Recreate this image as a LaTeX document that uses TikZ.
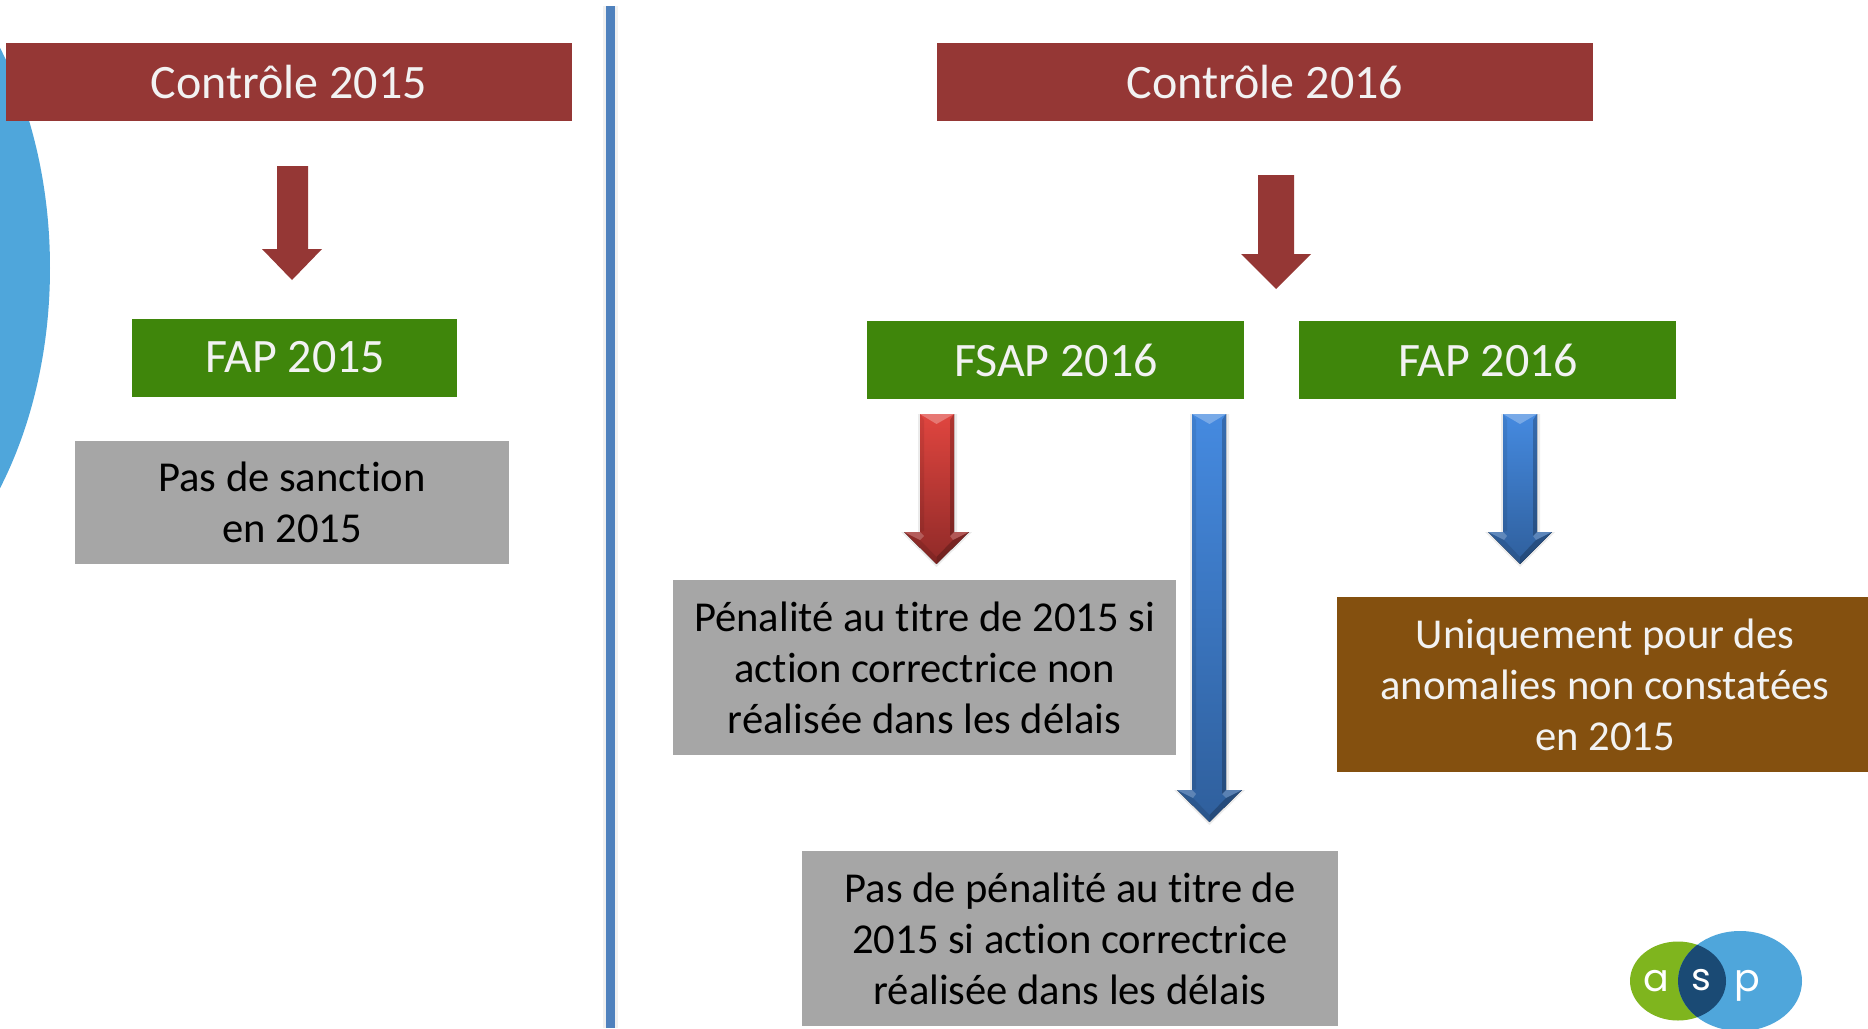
\documentclass[tikz,border=0pt]{standalone}
\usepackage{fontspec}
\setmainfont[RawFeature={-liga;-clig}]{Carlito}
\newfontfamily\logofont{Poppins}
\usetikzlibrary{calc}
\definecolor{dred}{HTML}{953735}
\definecolor{dgreen}{HTML}{3F860B}
\definecolor{mgrey}{HTML}{A6A6A6}
\definecolor{mbrown}{HTML}{84500F}
\definecolor{lineblue}{HTML}{4F81BD}
\definecolor{skyb}{HTML}{4FA6DB}
\definecolor{lgreen}{HTML}{7FB51E}
\definecolor{navy}{HTML}{1A4A74}
\newcommand{\hdrtext}[1]{\raisebox{-1.5pt}{#1}}
\tikzset{
  box/.style={rectangle,inner sep=0pt,outer sep=0pt,align=center,font=\fontsize{42.6}{51}\selectfont},
  bigbox/.style={box,font=\fontsize{48}{51}\selectfont},
  darktext/.style={box,fill=mgrey,text=black},
  redbox/.style={bigbox,fill=dred,text=white!95!black},
  greenbox/.style={bigbox,fill=dgreen,text=white!95!black},
  brownbox/.style={box,fill=mbrown,text=white!95!black},
  logotext/.style={inner sep=0pt,outer sep=0pt,text=white,font=\logofont\fontsize{38}{38}\selectfont}
}
% flat block arrow: name, x1,x2,ytop,yhead,hl,hr,ytip
\newcommand{\flatarrow}[8]{%
  \pgfmathsetmacro{\cx}{(#6+#7)/2}
  \coordinate (#1) at (\cx,#8);
  \fill[dred] (#2,#4) -- (#3,#4) -- (#3,#5) -- (#7,#5) -- (#1) -- (#6,#5) -- (#2,#5) -- cycle;
}
% bevelled block arrow: name, x1,x2,ytop,yhead,hl,hr,ytip
\newcommand{\bevelarrow}[8]{%
  \pgfmathsetmacro{\cx}{(#6+#7)/2}
  \coordinate (#1) at (\cx,#8);
  \fill[black,opacity=.08] (#2-2,#4) -- (#3+3,#4) -- (#3+3,#5) -- (#7+3,#5) -- (\cx,#8+3) -- (#6-3,#5) -- (#2-2,#5) -- cycle;
  \fill[top color=arrowlight,bottom color=arrowdark] (#2,#4) -- (#3,#4) -- (#3,#5) -- (#7,#5) -- (#1) -- (#6,#5) -- (#2,#5) -- cycle;
  % top bevel
  \fill[white,opacity=.28] (#2,#4) -- (#3,#4) -- (\cx,#4+10) -- cycle;
  % left and right bevel
  \fill[black,opacity=.08] (#2,#4) -- (#2+4,#4+6) -- (#2+4,#5-1) -- (#2,#5) -- cycle;
  \fill[black,opacity=.22] (#3,#4) -- (#3-4,#4+6) -- (#3-4,#5+4) -- (#3,#5) -- cycle;
  % head facets
  \fill[white,opacity=.22] (#6,#5) -- (#2,#5) -- (#2+4,#5+4) -- (#6+16,#5+8) -- cycle;
  \fill[white,opacity=.20] (#7,#5) -- (#3,#5) -- (#3-4,#5+4) -- (#7-16,#5+8) -- cycle;
  \fill[black,opacity=.22] (#7,#5) -- (#1) -- (\cx,#8-7) -- (#7-16,#5+8) -- cycle;
  \fill[black,opacity=.10] (#6,#5) -- (#1) -- (\cx,#8-7) -- (#6+16,#5+8) -- cycle;
}
\begin{document}
\begin{tikzpicture}[x=1pt,y=-1pt]
\useasboundingbox (0,0) rectangle (1868,1028);
\clip (0,0) rectangle (1868,1028);
\fill[white] (0,0) rectangle (1868,1028);
% big circle at the left
\fill[skyb] (-200,268) ellipse [x radius=250,y radius=367];
% separator
\fill[black,opacity=.06] (603,6) rectangle (618,1028);
\fill[lineblue] (606,6) rectangle (615,1028);
% boxes
\node[redbox,minimum width=566,minimum height=78] (c15) at (289,82) {\hdrtext{Contrôle 2015}};
\node[greenbox,minimum width=325,minimum height=78] (f15) at (294.5,357.5) {\hdrtext{\kern1.5pt FAP 2015}};
\node[darktext,minimum width=434,minimum height=123] (g15) at (292,502.5) {Pas de sanction\\en 2015};
\node[redbox,minimum width=656,minimum height=78] (c16) at (1265,82) {\hdrtext{Contrôle 2016}};
\node[greenbox,minimum width=377,minimum height=78] (fs16) at (1055.5,360) {\hdrtext{\kern1pt FSAP 2016}};
\node[greenbox,minimum width=377,minimum height=78] (f16) at (1487.5,360) {\hdrtext{\kern1.5pt FAP 2016}};
\node[darktext,minimum width=503,minimum height=175] (gpen) at (924.5,667.5) {Pénalité au titre de 2015 si\\action correctrice non\\réalisée dans les délais};
\node[brownbox,minimum width=536,minimum height=175] (bro) at (1605,684.5) {Uniquement pour des\\anomalies non constatées\\en 2015};
\node[darktext,minimum width=536,minimum height=175] (gpas) at (1070,938.5) {Pas de pénalité au titre de\\2015 si action correctrice\\réalisée dans les délais};
% flat arrows
\flatarrow{a1}{277}{308}{166}{249}{262}{322}{280}
\flatarrow{a2}{1258}{1294}{175}{254}{1241}{1311}{289}
% bevelled arrows
\definecolor{arrowlight}{HTML}{E0453F}
\definecolor{arrowdark}{HTML}{8F2A28}
\bevelarrow{a3}{920}{954}{414}{532}{904}{969}{564}
\definecolor{arrowlight}{HTML}{458AE0}
\definecolor{arrowdark}{HTML}{2F5F9C}
\bevelarrow{a4}{1192}{1226}{414}{790}{1177}{1242}{822}
\bevelarrow{a5}{1503}{1537}{414}{532}{1488}{1552}{564}
% logo
\fill[lgreen] (1678,981) ellipse [x radius=48,y radius=39.5];
\fill[skyb] (1740,981) ellipse [x radius=62,y radius=50];
\begin{scope}
\clip (1678,981) ellipse [x radius=48,y radius=39.5];
\fill[navy] (1740,981) ellipse [x radius=62,y radius=50];
\end{scope}
\node[logotext] (la) at (1656,981) {a};
\node[logotext] (ls) at (1701,980) {s};
\node[logotext] (lp) at (1747,986) {p};
\end{tikzpicture}
\end{document}
